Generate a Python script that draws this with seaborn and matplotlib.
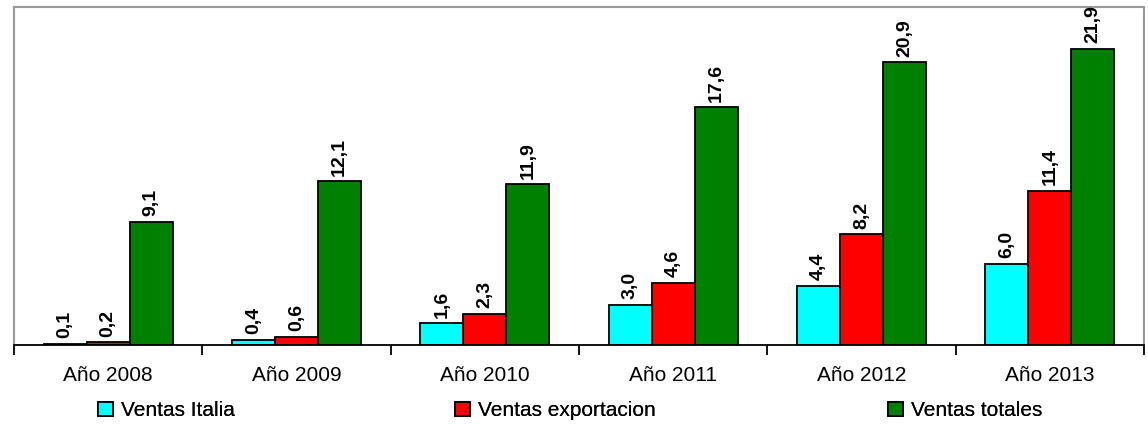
import matplotlib
matplotlib.use("Agg")
import matplotlib.pyplot as plt
from matplotlib.patches import Patch
from matplotlib.ticker import FixedLocator
import seaborn as sns
import pandas as pd

years = ["Año 2008", "Año 2009", "Año 2010", "Año 2011", "Año 2012", "Año 2013"]
series_names = ["Ventas Italia", "Ventas exportacion", "Ventas totales"]
ventas_italia = [0.1, 0.4, 1.6, 3.0, 4.4, 6.0]
ventas_exportacion = [0.2, 0.6, 2.3, 4.6, 8.2, 11.4]
ventas_totales = [9.1, 12.1, 11.9, 17.6, 20.9, 21.9]
colors = ["#00FFFF", "#FF0000", "#008000"]

rows = []
for name, vals in zip(series_names, [ventas_italia, ventas_exportacion, ventas_totales]):
    for y, v in zip(years, vals):
        rows.append({"year": y, "serie": name, "value": v})
df = pd.DataFrame(rows)

sns.set_style("white")
plt.rcParams["font.family"] = ["Liberation Sans", "DejaVu Sans"]
plt.rcParams["text.color"] = "black"
plt.rcParams["xtick.color"] = "black"
plt.rcParams["xtick.labelcolor"] = "black"

fig = plt.figure(figsize=(11.48, 4.25), dpi=100)
ax = fig.add_axes([0.0122, 0.188, 0.9843, 0.7955])

sns.barplot(data=df, x="year", y="value", hue="serie", order=years,
            hue_order=series_names, palette=colors, saturation=1,
            width=0.686, gap=0, edgecolor="black", linewidth=1.3,
            legend=False, ax=ax)

for cont in ax.containers:
    labels = [f"{b.get_height():.1f}".replace(".", ",") for b in cont]
    ax.bar_label(cont, labels=labels, rotation=90, padding=4,
                 fontsize=14, fontweight="bold", color="black")

ax.set_ylim(0, 25)
ax.set_xlim(-0.5, len(years) - 0.5)
ax.set_xlabel("")
ax.set_ylabel("")
ax.set_yticks([])
ax.tick_params(axis="x", which="major", length=0, pad=15, labelsize=15,
               labelcolor="black")
ax.xaxis.set_minor_locator(FixedLocator([i - 0.5 for i in range(len(years) + 1)]))
ax.tick_params(axis="x", which="minor", length=7, width=1.3, color="black",
               direction="out", bottom=True)

for side in ["left", "top", "right"]:
    ax.spines[side].set_color("#999999")
    ax.spines[side].set_linewidth(1.5)
ax.spines["bottom"].set_color("black")
ax.spines["bottom"].set_linewidth(1.3)

# one legend entry per anchor so each sits at its own column position
legend_x = [98, 455, 888]
for name, c, x in zip(series_names, colors, legend_x):
    leg = fig.legend([Patch(facecolor=c, edgecolor="black", linewidth=1.3)], [name],
                     loc="center left", bbox_to_anchor=(x / 1148, 0.033),
                     frameon=False, fontsize=15, handlelength=0.7,
                     handleheight=0.7, handletextpad=0.4,
                     borderaxespad=0, borderpad=0, labelcolor="black")
    fig.add_artist(leg)

fig.savefig("out.png", dpi=100)
